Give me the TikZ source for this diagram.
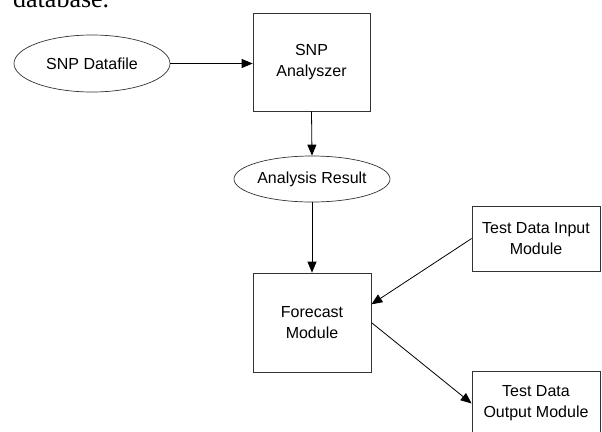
\documentclass[tikz,border=0pt]{standalone}
\usepackage{fontspec}
\setmainfont{Liberation Sans}
\newfontfamily\pageserif{Liberation Serif}
\usetikzlibrary{shapes.geometric,arrows.meta}
\tikzset{
  lbl/.style={font=\fontsize{16}{21}\selectfont, align=center, inner sep=0pt},
  oval/.style={lbl, ellipse, draw=black!80, line width=0.7pt},
  boxnode/.style={lbl, rectangle, draw=black!80, line width=0.7pt},
  flow/.style={draw=black, line width=0.8pt, -{Triangle[length=11pt,width=9pt]}},
}
\begin{document}
\begin{tikzpicture}[x=1pt,y=-1pt]
\useasboundingbox (0,0) rectangle (602,431);
\clip (0,0) rectangle (602,431);
\node[anchor=base west, inner sep=0pt, font=\pageserif\fontsize{26}{30}\selectfont] (pagetext) at (13,7) {database.};
\node[oval, minimum width=156pt, minimum height=57pt] (dfile) at (92,63.5) {SNP Datafile};
\node[boxnode, minimum width=117pt, minimum height=98pt] (analyzer) at (311.5,62) {SNP\\Analyszer};
\node[oval, minimum width=156pt, minimum height=46pt] (result) at (312,179) {Analysis Result};
\node[boxnode, minimum width=118pt, minimum height=99pt] (forecast) at (312,322.5) {Forecast\\Module};
\node[boxnode, minimum width=128pt, minimum height=65pt] (tin) at (536,238.5) {Test Data Input\\Module};
\node[boxnode, minimum width=128pt, minimum height=65pt] (tout) at (536,403.5) {Test Data\\Output Module};
\draw[flow] (dfile.east) -- (dfile.east -| analyzer.west);
\draw[flow] (analyzer.south) -- (result.north);
\draw[flow] (result.south) -- (forecast.north);
\draw[flow] (tin.west) -- (forecast.17);
\draw[flow] (forecast.east) -- (tout.west);
\end{tikzpicture}
\end{document}
